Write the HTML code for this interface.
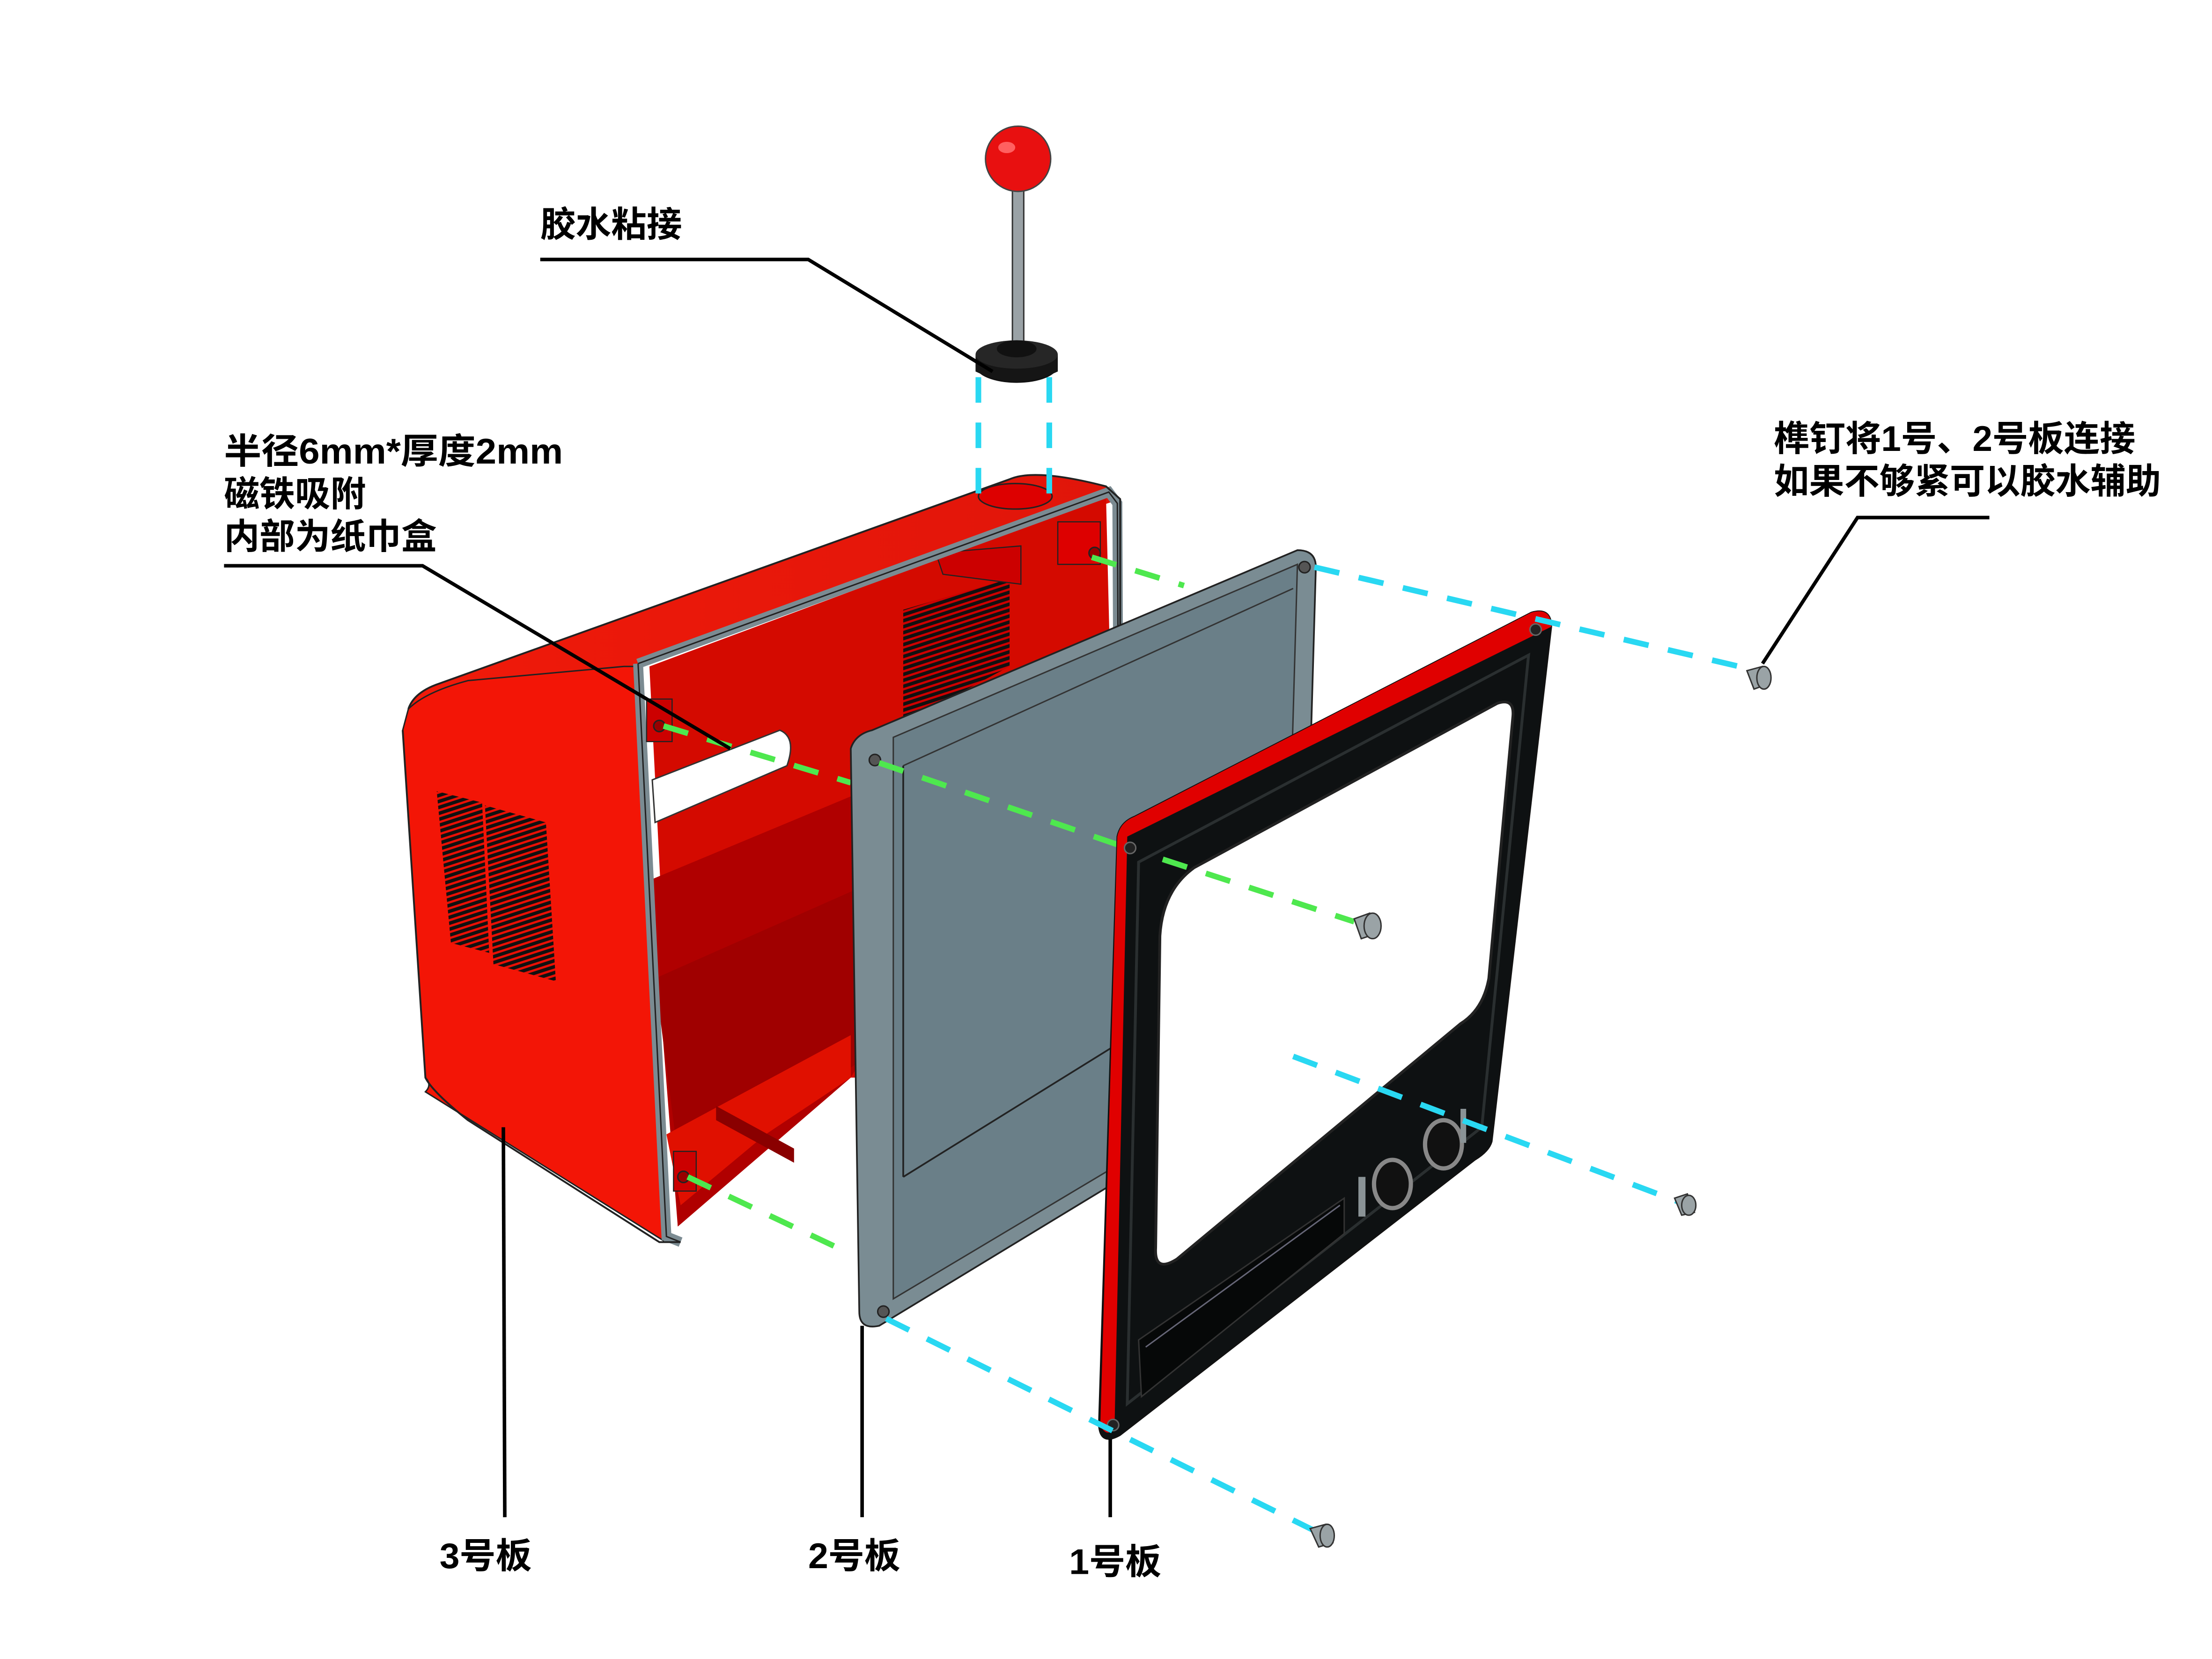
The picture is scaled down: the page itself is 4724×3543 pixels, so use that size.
<!DOCTYPE html>
<html><head><meta charset="utf-8"><style>
html,body{margin:0;padding:0;background:#fff;}
svg{display:block;}
text{font-family:"Liberation Sans","Noto Sans CJK SC",sans-serif;font-weight:bold;fill:#000;}
</style></head><body>
<svg width="4724" height="3543" viewBox="0 0 1560 1170" preserveAspectRatio="none" xmlns="http://www.w3.org/2000/svg">
<defs>
<pattern id="vent" width="4" height="4" patternUnits="userSpaceOnUse" patternTransform="rotate(-18)">
<rect width="4" height="4" fill="#e81005"/><rect width="4" height="2.4" fill="#111"/>
</pattern>
<pattern id="vent2" width="4" height="4" patternUnits="userSpaceOnUse" patternTransform="rotate(-18)">
<rect width="4" height="4" fill="#c00"/><rect width="4" height="2.4" fill="#111"/>
</pattern>
<linearGradient id="topg" x1="0" y1="0" x2="1" y2="0">
<stop offset="0" stop-color="#f01a0a"/><stop offset="1" stop-color="#e0150a"/>
</linearGradient>
</defs>

<path d="M288,500 Q292,488 310,482 L712,338 Q730,330 780,343 L790,352 L455,465 Q445,470 440,478 Z" fill="url(#topg)"/>
<path d="M288,500 Q300,488 330,480 L440,470 L450,470 L468,875 L300,770 Q305,765 300,760 L284,515 Z" fill="#f31506" stroke="#222" stroke-width="1"/>
<path d="M458,470 L780,350 L790,760 L600,760 L478,865 Z" fill="#d40a00"/>
<path d="M460,620 L700,520 L720,560 L600,760 L478,865 L465,700 Z" fill="#b00000"/>
<path d="M462,690 L620,620 L620,740 L480,830 Z" fill="#a00000"/>
<path d="M470,800 L600,730 L600,760 L540,800 L480,850 Z" fill="#e01000"/>
<path d="M505,780 L560,810 L560,820 L505,790 Z" fill="#8a0000"/>
<path d="M460,550 L550,515 Q562,520 555,540 L462,580 Z" fill="#fff" stroke="#333" stroke-width="1"/>
<path d="M637,430 L712,408 L712,470 L637,510 Z" fill="url(#vent2)"/>
<path d="M660,390 L720,385 L720,412 L665,405 Z" fill="#c00" stroke="#222" stroke-width="0.8"/>
<path d="M450,468 L782,347 L788,355 L790,770 M450,468 L470,872 L480,876" fill="none" stroke="#7b8b92" stroke-width="7"/>
<path d="M450,468 L782,347 L788,355 L790,770 M450,468 L470,872 L480,876" fill="none" stroke="#222" stroke-width="1"/>
<path d="M288,500 Q292,488 310,482 L712,338 Q730,330 780,343 L790,352 L790,770 M284,515 L300,760 Q305,770 330,790 L465,876 L480,876" fill="none" stroke="#222" stroke-width="1.3"/>
<path d="M308,558 L340,566 L345,672 L318,665 Z" fill="url(#vent)"/>
<path d="M342,568 L385,580 L392,692 L348,680 Z" fill="url(#vent)"/>
<ellipse cx="716" cy="350" rx="26" ry="9" fill="#d00" stroke="#222" stroke-width="1"/>
<rect x="456" y="493" width="18" height="30" fill="#cc0000" stroke="#222" stroke-width="0.8"/>
<circle cx="465" cy="512" r="4" fill="#900" stroke="#222"/>
<rect x="746" y="368" width="30" height="30" fill="#d00" stroke="#222" stroke-width="0.8"/>
<circle cx="772" cy="390" r="4" fill="#900" stroke="#222"/>
<rect x="475" y="812" width="16" height="28" fill="#cc0000" stroke="#222" stroke-width="0.8"/>
<circle cx="482" cy="830" r="4" fill="#900" stroke="#222"/>

<g stroke="#4ee84e" stroke-width="4" stroke-dasharray="18,14" fill="none">
<line x1="468" y1="512" x2="600" y2="552"/>
<line x1="770" y1="393" x2="835" y2="413"/>
<line x1="485" y1="830" x2="595" y2="882"/>
</g>

<path d="M600,528 Q603,518 615,515 L915,388 Q928,388 928,400 L918,748 Q916,758 905,762 L620,935 Q606,938 606,925 Z" fill="#7a8c93" stroke="#222" stroke-width="1.2"/>
<path d="M630,520 L915,398 L905,752 L630,916 Z" fill="#6a7f88" stroke="#333" stroke-width="1"/>
<path d="M637,540 L912,415" stroke="#333" stroke-width="1" fill="none"/>
<path d="M637,830 L895,670 L895,640" stroke="#222" stroke-width="1.2" fill="none"/>
<line x1="637" y1="540" x2="637" y2="830" stroke="#222" stroke-width="1.2"/>
<circle cx="617" cy="536" r="4" fill="#555" stroke="#222"/>
<circle cx="920" cy="400" r="4" fill="#555" stroke="#222"/>
<circle cx="903" cy="742" r="4" fill="#555" stroke="#222"/>
<circle cx="623" cy="925" r="4" fill="#555" stroke="#222"/>

<g stroke="#4ee84e" stroke-width="4" stroke-dasharray="18,14" fill="none">
<line x1="620" y1="538" x2="795" y2="598"/>
<line x1="800" y1="600" x2="960" y2="652"/>
</g>

<path d="M788,590 Q790,580 800,576 L1080,432 Q1094,428 1094,442 L1052,805 Q1050,812 1040,818 L790,1012 Q776,1020 775,1005 Z" fill="#0e1112" stroke="#111" stroke-width="1.2"/>
<path d="M788,590 Q790,580 800,576 L1080,432 Q1094,428 1094,442 L1092,443 L795,590 L786,1008 Q780,1014 776,1005 Z" fill="#e00000"/>
<path d="M803,608 L1078,462 L1045,795 L795,990 Z" fill="none" stroke="#2a2f30" stroke-width="2"/>
<path d="M842,612 L1056,496 Q1068,492 1067,505 L1050,690 Q1046,712 1030,722 L830,888 Q814,898 815,880 L818,660 Q820,628 842,612 Z" fill="#fff" stroke="#222" stroke-width="2"/>
<path d="M803,945 L948,845 L948,870 L805,985 Z" fill="#060808" stroke="#333" stroke-width="1"/>
<path d="M808,950 L945,850" stroke="#667" stroke-width="1"/>
<ellipse cx="982" cy="835" rx="13" ry="17" fill="#111" stroke="#888" stroke-width="3"/>
<ellipse cx="1018" cy="807" rx="13" ry="17" fill="#111" stroke="#888" stroke-width="3"/>
<rect x="958" y="830" width="5" height="28" fill="#8a9396"/>
<rect x="1030" y="782" width="4" height="24" fill="#8a9396"/>
<circle cx="797" cy="598" r="4" fill="#222" stroke="#666"/>
<circle cx="1083" cy="444" r="4" fill="#222" stroke="#666"/>
<circle cx="785" cy="1005" r="4" fill="#222" stroke="#666"/>

<g stroke="#4ee84e" stroke-width="4" stroke-dasharray="18,14" fill="none">
<line x1="820" y1="606" x2="955" y2="650"/>
</g>

<g stroke="#29d8f2" stroke-width="4" stroke-dasharray="18,14" fill="none">
<line x1="690" y1="266" x2="690" y2="350"/>
<line x1="740" y1="266" x2="740" y2="350"/>
<line x1="927" y1="400" x2="1235" y2="472"/>
<line x1="912" y1="745" x2="1185" y2="848"/>
<line x1="625" y1="930" x2="928" y2="1080"/>
</g>

<rect x="714" y="130" width="8" height="112" fill="#9aa2a6" stroke="#333" stroke-width="1"/>
<ellipse cx="717" cy="258" rx="29" ry="12" fill="#111"/>
<path d="M688,250 L688,262 Q717,276 746,262 L746,250 Z" fill="#151515"/>
<ellipse cx="717" cy="250" rx="29" ry="10" fill="#262626"/>
<ellipse cx="717" cy="246" rx="14" ry="6" fill="#111"/>
<circle cx="718" cy="112" r="23" fill="#e81010" stroke="#444" stroke-width="1"/>
<ellipse cx="710" cy="104" rx="6" ry="4" fill="#ff6060"/>

<g fill="#9aa3a6" stroke="#333" stroke-width="1">
<path d="M1232,473 L1243,470 L1248,482 L1237,486 Z"/><ellipse cx="1244" cy="478" rx="5" ry="8"/>
<path d="M955,648 L966,644 L972,658 L960,662 Z"/><ellipse cx="968" cy="653" rx="6" ry="9"/>
<path d="M1181,845 L1190,842 L1195,855 L1186,857 Z"/><ellipse cx="1191" cy="850" rx="5" ry="7"/>
<path d="M924,1078 L935,1075 L940,1088 L930,1091 Z"/><ellipse cx="936" cy="1083" rx="5" ry="8"/>
</g>

<g stroke="#000" stroke-width="2.5" fill="none">
<polyline points="381,183 570,183 700,262"/>
<polyline points="158,399 298,399 515,528"/>
<polyline points="1403,365 1310,365 1243,468"/>
<line x1="355" y1="795" x2="356" y2="1070"/>
<line x1="608" y1="935" x2="608" y2="1070"/>
<line x1="783" y1="1015" x2="783" y2="1070"/>
</g>

<text x="381" y="167" font-size="25" textLength="100" lengthAdjust="spacingAndGlyphs">胶水粘接</text>
<text x="158" y="327" font-size="25" textLength="239" lengthAdjust="spacingAndGlyphs">半径6mm*厚度2mm</text>
<text x="158" y="357" font-size="25" textLength="100" lengthAdjust="spacingAndGlyphs">磁铁吸附</text>
<text x="158" y="387" font-size="25" textLength="150" lengthAdjust="spacingAndGlyphs">内部为纸巾盒</text>
<text x="1251" y="318" font-size="25" textLength="255" lengthAdjust="spacingAndGlyphs">榫钉将1号、2号板连接</text>
<text x="1251" y="348" font-size="25" textLength="273" lengthAdjust="spacingAndGlyphs">如果不够紧可以胶水辅助</text>
<text x="310" y="1106" font-size="25" textLength="65" lengthAdjust="spacingAndGlyphs">3号板</text>
<text x="570" y="1106" font-size="25" textLength="65" lengthAdjust="spacingAndGlyphs">2号板</text>
<text x="754" y="1110" font-size="25" textLength="65" lengthAdjust="spacingAndGlyphs">1号板</text>
</svg>
</body></html>
